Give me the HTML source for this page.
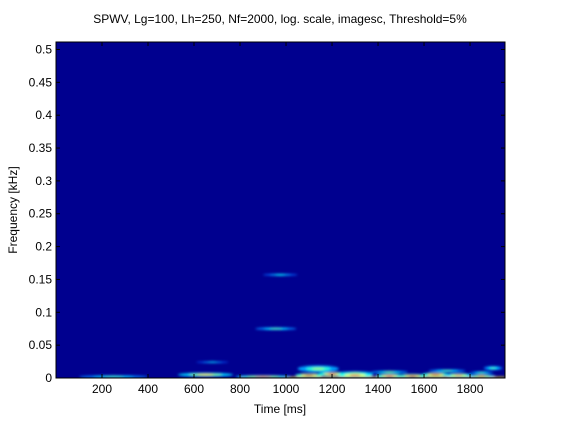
<!DOCTYPE html>
<html><head><meta charset="utf-8"><style>
body{margin:0;background:#fff;width:561px;height:420px;overflow:hidden;font-family:"Liberation Sans",sans-serif}
svg text{font-family:"Liberation Sans",sans-serif;font-size:12px;fill:#000}
</style></head><body>
<svg id="chart" width="561" height="420" xmlns="http://www.w3.org/2000/svg">
<defs>
<filter id="blur" x="-50%" y="-50%" width="200%" height="200%"><feGaussianBlur stdDeviation="1.2"/></filter>
<clipPath id="clip"><rect x="56" y="42" width="449" height="336"/></clipPath>
</defs>
<text x="280" y="23" text-anchor="middle">SPWV, Lg=100, Lh=250, Nf=2000, log. scale, imagesc, Threshold=5%</text>
<rect x="56" y="42" width="449" height="336" fill="#00008F"/>
<g id="marks" clip-path="url(#clip)" filter="url(#blur)"></g>
<g id="axes"></g>
<text x="280" y="413" text-anchor="middle">Time [ms]</text>
<text transform="translate(17,210) rotate(-90)" text-anchor="middle">Frequency [kHz]</text>
</svg>
<script>
const xTicks=[200,400,600,800,1000,1200,1400,1600,1800];
const yTicks=[0,0.05,0.1,0.15,0.2,0.25,0.3,0.35,0.4,0.45,0.5];
const yTickLabels=["0","0.05","0.1","0.15","0.2","0.25","0.3","0.35","0.4","0.45","0.5"];
// blobs: time center (ms), freq center (kHz), time half-width (ms), freq half-height (kHz), intensity 0..1
const blobTime=[975,956,680,1140,1300,250,650,900,1100,1200,1300,1450,1550,1650,1750,1850,1900,1450,1700,1850];
const blobFreq=[0.157,0.075,0.024,0.014,0.007,0.002,0.005,0.002,0.004,0.006,0.004,0.003,0.003,0.005,0.004,0.003,0.015,0.009,0.011,0.008];
const blobW=[75,90,70,90,80,150,120,120,60,60,80,60,60,60,60,60,40,80,80,50];
const blobH=[0.0015,0.002,0.0012,0.005,0.003,0.002,0.003,0.002,0.003,0.003,0.003,0.003,0.003,0.003,0.003,0.002,0.003,0.002,0.002,0.002];
const blobI=[0.25,0.35,0.2,0.45,0.5,0.35,0.6,0.7,0.9,0.85,0.8,0.85,0.9,0.88,0.7,0.65,0.35,0.4,0.35,0.35];
const X0=56,X1=505,Y0=378,Y1=42,TMAX=1952,FMAX=0.5114;
const sx=t=>X0+(t/TMAX)*(X1-X0);
const sy=f=>Y0-(f/FMAX)*(Y0-Y1);
function jet(v){const r=Math.min(1,Math.max(0,1.5-Math.abs(4*v-3))),g=Math.min(1,Math.max(0,1.5-Math.abs(4*v-2))),b=Math.min(1,Math.max(0,1.5-Math.abs(4*v-1)));return `rgb(${Math.round(r*255)},${Math.round(g*255)},${Math.round(b*255)})`;}
const NS="http://www.w3.org/2000/svg";
const marks=document.getElementById('marks');
const base=document.createElementNS(NS,'rect');


base.setAttribute('x',sx(800));base.setAttribute('y',sy(0.002));
base.setAttribute('width',sx(TMAX)-sx(800));base.setAttribute('height',sy(0)-sy(0.002));
base.setAttribute('fill',jet(0.65));
marks.appendChild(base);
for(let i=0;i<blobTime.length;i++){
  const cx=sx(blobTime[i]),cy=sy(blobFreq[i]);
  const rx=sx(blobW[i])-sx(0),ry=sy(0)-sy(blobH[i]);
  [[1,0.35],[0.6,0.7],[0.3,1]].forEach(([s,k])=>{
    const e=document.createElementNS(NS,'ellipse');
    
    
    e.setAttribute('cx',cx);e.setAttribute('cy',cy);
    e.setAttribute('rx',rx*s);e.setAttribute('ry',Math.max(0.8,ry*s));
    e.setAttribute('fill',jet(0.15+blobI[i]*k*0.85));
    marks.appendChild(e);
  });
}
const axes=document.getElementById('axes');
const frame=document.createElementNS(NS,'rect');


frame.setAttribute('x',X0);frame.setAttribute('y',Y1);frame.setAttribute('width',X1-X0);frame.setAttribute('height',Y0-Y1);
frame.setAttribute('fill','none');frame.setAttribute('stroke','#000');
axes.appendChild(frame);
xTicks.forEach(t=>{
  const x=sx(t);
  for(const [a,b] of [[Y0,Y0-4],[Y1,Y1+4]]){
    const l=document.createElementNS(NS,'line');
    
    
    l.setAttribute('x1',x);l.setAttribute('x2',x);l.setAttribute('y1',a);l.setAttribute('y2',b);l.setAttribute('stroke','#000');
    axes.appendChild(l);
  }
  const tx=document.createElementNS(NS,'text');
  
  
  tx.setAttribute('x',x);tx.setAttribute('y',Y0+15);tx.setAttribute('text-anchor','middle');tx.textContent=t;
  axes.appendChild(tx);
});
yTicks.forEach((f,i)=>{
  const y=sy(f);
  for(const [a,b] of [[X0,X0+4],[X1,X1-4]]){
    const l=document.createElementNS(NS,'line');
    
    
    l.setAttribute('x1',a);l.setAttribute('x2',b);l.setAttribute('y1',y);l.setAttribute('y2',y);l.setAttribute('stroke','#000');
    axes.appendChild(l);
  }
  const tx=document.createElementNS(NS,'text');
  
  
  tx.setAttribute('x',X0-4);tx.setAttribute('y',y+4);tx.setAttribute('text-anchor','end');tx.textContent=yTickLabels[i];
  axes.appendChild(tx);
});
</script>
</body></html>
